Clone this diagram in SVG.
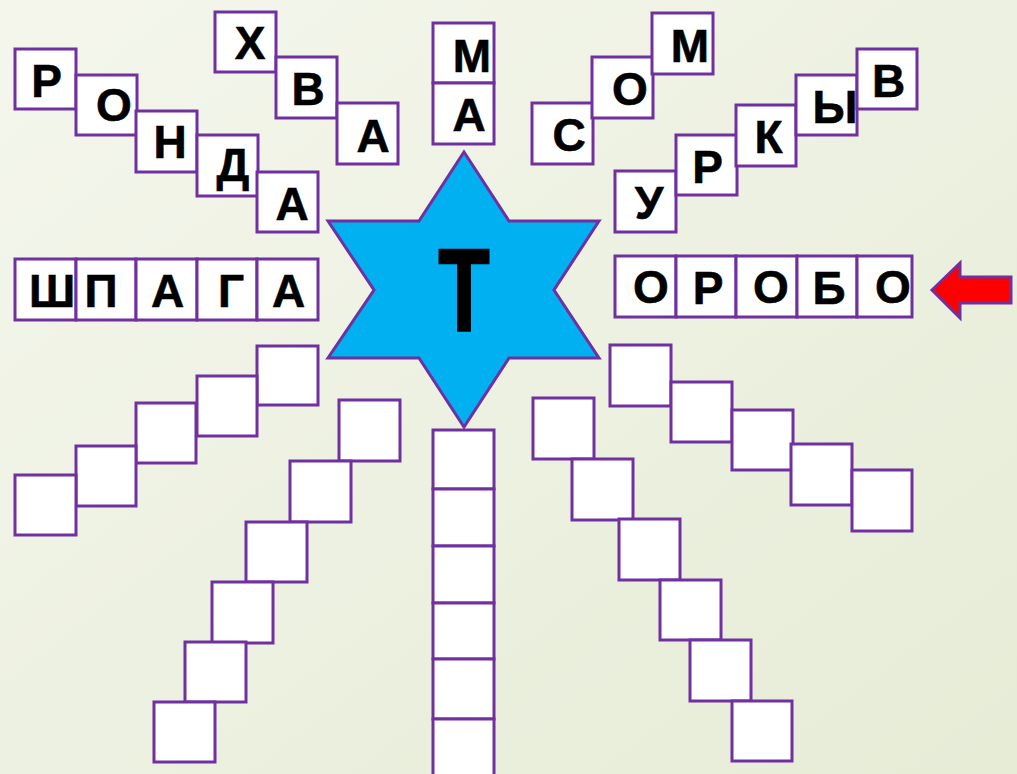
<svg xmlns="http://www.w3.org/2000/svg" width="1017" height="774" viewBox="0 0 1017 774">
<defs>
<linearGradient id="bg" x1="0" y1="0" x2="1" y2="1">
<stop offset="0" stop-color="#F4F6EC"/>
<stop offset="1" stop-color="#E6ECD6"/>
</linearGradient>
<style>
.b{fill:#fff;stroke:#7030A0;stroke-width:3}
.t{font-family:"Liberation Sans",Arial,sans-serif;font-weight:bold;font-size:46px;text-anchor:middle;fill:#000;stroke:#000;stroke-width:0.6}
</style>
</defs>
<rect width="1017" height="774" fill="url(#bg)"/>
<g id="connectors"/>
<g id="star">
<path d="M464,152 L509,221 L599,221 L554,290 L599,358 L509,358 L464,427 L419,358 L328,358 L374,290 L328,221 L419,221 Z" fill="#00B0F0" stroke="#7030A0" stroke-width="3" stroke-linejoin="miter"/>
<text class="t" transform="translate(464,331) scale(0.72,1)" style="font-size:116px;stroke-width:2.5">Т</text>
</g>
<g id="arrow">
<polygon points="932,290 960,263 960,277 1011,277 1011,303 960,303 960,318" fill="#FF0000" stroke="#7030A0" stroke-width="3"/>
</g>
<g id="w-ronda">
<g id="r1"><rect class="b" x="15" y="49" width="61" height="60"/><text class="t" x="46.5" y="97">Р</text></g>
<g id="r2"><rect class="b" x="76" y="75" width="61" height="60"/><text class="t" x="114" y="121">О</text></g>
<g id="r3"><rect class="b" x="136" y="111" width="61" height="61"/><text class="t" x="170" y="158">Н</text></g>
<g id="r4"><rect class="b" x="197" y="135" width="61" height="61"/><text class="t" x="233" y="181">Д</text></g>
<g id="r5"><rect class="b" x="257" y="172" width="61" height="60"/><text class="t" x="292" y="220">А</text></g>
</g>
<g id="w-hva">
<g id="h1"><rect class="b" x="215" y="12" width="61" height="60"/><text class="t" x="250" y="59">Х</text></g>
<g id="h2"><rect class="b" x="276" y="57" width="61" height="61"/><text class="t" x="308" y="105">В</text></g>
<g id="h3"><rect class="b" x="337" y="103" width="61" height="61"/><text class="t" x="373" y="152">А</text></g>
</g>
<g id="w-ma">
<g id="m1"><rect class="b" x="433" y="23" width="61" height="60"/><text class="t" x="472" y="72">М</text></g>
<g id="m2"><rect class="b" x="433" y="83" width="61" height="61"/><text class="t" x="469" y="131">А</text></g>
</g>
<g id="w-som">
<g id="s1"><rect class="b" x="532" y="103" width="61" height="61"/><text class="t" x="569" y="151">С</text></g>
<g id="s2"><rect class="b" x="592" y="57" width="61" height="61"/><text class="t" x="630" y="105">О</text></g>
<g id="s3"><rect class="b" x="652" y="13" width="61" height="61"/><text class="t" x="690" y="62">М</text></g>
</g>
<g id="w-urkyv">
<g id="u1"><rect class="b" x="615" y="171" width="61" height="61"/><text class="t" x="649" y="219">У</text></g>
<g id="u2"><rect class="b" x="676" y="135" width="61" height="60"/><text class="t" x="707.5" y="183">Р</text></g>
<g id="u3"><rect class="b" x="736" y="105" width="60" height="61"/><text class="t" x="768.5" y="153">К</text></g>
<g id="u4"><rect class="b" x="796" y="75" width="61" height="60"/><text class="t" x="835" y="123">Ы</text></g>
<g id="u5"><rect class="b" x="857" y="49" width="60" height="60"/><text class="t" x="888.5" y="97">В</text></g>
</g>
<g id="w-shpaga">
<g id="p1"><rect class="b" x="15" y="259" width="61" height="61"/><text class="t" x="52" y="307">Ш</text></g>
<g id="p2"><rect class="b" x="76" y="259" width="60" height="61"/><text class="t" x="101" y="307">П</text></g>
<g id="p3"><rect class="b" x="136" y="259" width="61" height="61"/><text class="t" x="167.5" y="307">А</text></g>
<g id="p4"><rect class="b" x="197" y="259" width="60" height="61"/><text class="t" x="231" y="307">Г</text></g>
<g id="p5"><rect class="b" x="257" y="259" width="61" height="61"/><text class="t" x="288.5" y="307">А</text></g>
</g>
<g id="w-orobo">
<g id="o1"><rect class="b" x="615" y="256" width="61" height="61"/><text class="t" x="651" y="303">О</text></g>
<g id="o2"><rect class="b" x="676" y="256" width="60" height="61"/><text class="t" x="708" y="304">Р</text></g>
<g id="o3"><rect class="b" x="736" y="256" width="61" height="61"/><text class="t" x="771" y="303">О</text></g>
<g id="o4"><rect class="b" x="797" y="256" width="60" height="61"/><text class="t" x="829" y="304">Б</text></g>
<g id="o5"><rect class="b" x="857" y="256" width="55" height="61"/><text class="t" x="893" y="303">О</text></g>
</g>
<g id="w-left1">
<g id="a1"><rect class="b" x="257" y="346" width="61" height="59"/></g>
<g id="a2"><rect class="b" x="197" y="376" width="60" height="60"/></g>
<g id="a3"><rect class="b" x="136" y="403" width="60" height="60"/></g>
<g id="a4"><rect class="b" x="76" y="446" width="60" height="60"/></g>
<g id="a5"><rect class="b" x="15" y="475" width="61" height="60"/></g>
</g>
<g id="w-left2">
<g id="c1"><rect class="b" x="339" y="400" width="61" height="61"/></g>
<g id="c2"><rect class="b" x="290" y="461" width="61" height="61"/></g>
<g id="c3"><rect class="b" x="246" y="522" width="61" height="60"/></g>
<g id="c4"><rect class="b" x="212" y="582" width="61" height="61"/></g>
<g id="c5"><rect class="b" x="185" y="642" width="61" height="60"/></g>
<g id="c6"><rect class="b" x="154" y="702" width="61" height="60"/></g>
</g>
<g id="w-down">
<g id="d1"><rect class="b" x="433" y="430" width="61" height="59"/></g>
<g id="d2"><rect class="b" x="433" y="489" width="61" height="57"/></g>
<g id="d3"><rect class="b" x="433" y="546" width="61" height="57"/></g>
<g id="d4"><rect class="b" x="433" y="603" width="61" height="56"/></g>
<g id="d5"><rect class="b" x="433" y="659" width="61" height="60"/></g>
<g id="d6"><rect class="b" x="433" y="719" width="61" height="60"/></g>
</g>
<g id="w-right1">
<g id="e1"><rect class="b" x="533" y="398" width="61" height="61"/></g>
<g id="e2"><rect class="b" x="572" y="459" width="61" height="61"/></g>
<g id="e3"><rect class="b" x="619" y="519" width="61" height="61"/></g>
<g id="e4"><rect class="b" x="660" y="580" width="61" height="60"/></g>
<g id="e5"><rect class="b" x="690" y="640" width="61" height="61"/></g>
<g id="e6"><rect class="b" x="732" y="701" width="60" height="60"/></g>
</g>
<g id="w-right2">
<g id="f1"><rect class="b" x="610" y="345" width="61" height="61"/></g>
<g id="f2"><rect class="b" x="671" y="382" width="61" height="60"/></g>
<g id="f3"><rect class="b" x="732" y="410" width="61" height="60"/></g>
<g id="f4"><rect class="b" x="791" y="444" width="61" height="61"/></g>
<g id="f5"><rect class="b" x="852" y="470" width="60" height="61"/></g>
</g>
</svg>
